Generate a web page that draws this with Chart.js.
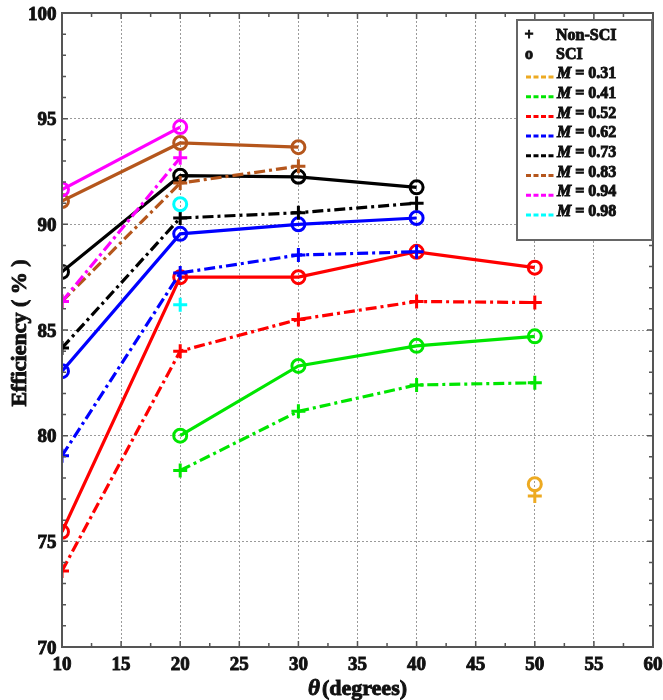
<!DOCTYPE html>
<html lang="en">
<head>
  <meta charset="UTF-8">
  <title>Efficiency vs θ</title>
  <script src="https://cdn.jsdelivr.net/npm/chart.js"></script>
  <style>
    body { margin: 0; background: #fff; }
  </style>
</head>
<body>
<canvas id="chart" width="663" height="700"></canvas>

<script>
  // θ (degrees) where efficiency was measured
  const angles = [10, 20, 30, 40, 50];
  const xTicks = [10, 15, 20, 25, 30, 35, 40, 45, 50, 55, 60];
  const yTicks = [70, 75, 80, 85, 90, 95, 100];
  const machLabels = ['0.31', '0.41', '0.52', '0.62', '0.73', '0.83', '0.94', '0.98'];

  // SCI efficiency (%), null = no point
  const sci031 = [null, null, null, null, 77.7];
  const sci041 = [null, 80.0, 83.3, 84.25, 84.7];
  const sci052 = [75.45, 87.5, 87.5, 88.7, 87.95];
  const sci062 = [83.05, 89.55, 90.0, 90.3, null];
  const sci073 = [87.75, 92.3, 92.25, 91.75, null];
  const sci083 = [91.1, 93.85, 93.65, null, null];
  const sci094 = [91.65, 94.6, null, null, null];
  const sci098 = [null, 90.95, null, null, null];

  // Non-SCI efficiency (%)
  const non031 = [null, null, null, null, 77.15];
  const non041 = [null, 78.35, 81.15, 82.4, 82.5];
  const non052 = [73.6, 84.0, 85.5, 86.35, 86.3];
  const non062 = [79.05, 87.7, 88.55, 88.7, null];
  const non073 = [84.15, 90.3, 90.55, 91.0, null];
  const non083 = [86.35, 91.95, 92.75, null, null];
  const non094 = [86.35, 93.15, null, null, null];
  const non098 = [null, 86.2, null, null, null];

  const sciSeries = [sci031, sci041, sci052, sci062, sci073, sci083, sci094, sci098];
  const nonSeries = [non031, non041, non052, non062, non073, non083, non094, non098];
  const colors = ['#EDAA22', '#00E600', '#FF0000', '#0000FF', '#000000', '#B5561C', '#FF00FF', '#00FFFF'];

  const serif = '"Liberation Serif", "Times New Roman", serif';
  const ink = '#111';

  function toPoints(values) {
    const pts = [];
    values.forEach((v, i) => { if (v !== null) pts.push({ x: angles[i], y: v }); });
    return pts;
  }

  // one solid (SCI) and one dash-dot (Non-SCI) dataset per Mach number
  const datasets = [];
  machLabels.forEach((m, i) => {
    datasets.push({
      label: 'Non-SCI M = ' + m,
      data: toPoints(nonSeries[i]),
      borderColor: colors[i],
      borderWidth: 3.2,
      borderDash: [11, 4, 3, 4],
      pointStyle: 'cross',
      pointRadius: 7,
      pointBorderWidth: 3,
      pointBorderColor: colors[i],
      tension: 0,
      order: -(i * 2)
    });
    datasets.push({
      label: 'SCI M = ' + m,
      data: toPoints(sciSeries[i]),
      borderColor: colors[i],
      borderWidth: 3.2,
      pointStyle: 'circle',
      pointRadius: 6.5,
      pointBorderWidth: 3,
      pointBorderColor: colors[i],
      pointBackgroundColor: 'rgba(0,0,0,0)',
      tension: 0,
      order: -(i * 2 + 1)
    });
  });

  // heavy serif text: fill plus a thin stroke of the same colour
  function boldText(ctx, text, x, y, font, color) {
    ctx.font = font;
    ctx.fillStyle = color;
    ctx.strokeStyle = color;
    ctx.lineWidth = 0.9;
    ctx.setLineDash([]);
    ctx.fillText(text, x, y);
    ctx.strokeText(text, x, y);
  }

  // box, inward ticks, tick labels, titles and legend
  const decorations = {
    id: 'decorations',
    afterDatasetsDraw(chart) {
      const { ctx, chartArea: a, scales: { x, y } } = chart;
      ctx.save();

      // frame
      ctx.strokeStyle = '#555';
      ctx.lineWidth = 2;
      ctx.setLineDash([]);
      ctx.strokeRect(a.left, a.top, a.right - a.left, a.bottom - a.top);

      // ticks on all four sides
      ctx.lineWidth = 1.5;
      for (let v = 10; v <= 60; v += 2.5) {
        const px = x.getPixelForValue(v);
        const len = v % 5 === 0 ? 6 : 4;
        ctx.beginPath();
        ctx.moveTo(px, a.bottom); ctx.lineTo(px, a.bottom - len);
        ctx.moveTo(px, a.top); ctx.lineTo(px, a.top + len);
        ctx.stroke();
      }
      for (let v = 70; v <= 100; v += 1) {
        const py = y.getPixelForValue(v);
        const len = v % 5 === 0 ? 6 : 4;
        ctx.beginPath();
        ctx.moveTo(a.left, py); ctx.lineTo(a.left + len, py);
        ctx.moveTo(a.right, py); ctx.lineTo(a.right - len, py);
        ctx.stroke();
      }

      // tick labels
      const tickFont = 'bold 19px ' + serif;
      ctx.textBaseline = 'alphabetic';
      ctx.textAlign = 'center';
      xTicks.forEach(v => boldText(ctx, String(v), x.getPixelForValue(v), 670, tickFont, ink));
      ctx.textAlign = 'right';
      yTicks.forEach(v => boldText(ctx, String(v), 56.5, y.getPixelForValue(v) + 6.5, tickFont, ink));

      // y axis title
      ctx.save();
      ctx.translate(20, (a.top + a.bottom) / 2 + 3);
      ctx.rotate(-Math.PI / 2);
      ctx.textAlign = 'center';
      ctx.textBaseline = 'middle';
      boldText(ctx, 'Efficiency ( % )', 0, 0, 'bold 22px ' + serif, ink);
      ctx.restore();

      // x axis title: italic θ followed by (degrees)
      const cx = (a.left + a.right) / 2;
      ctx.textAlign = 'left';
      ctx.textBaseline = 'alphabetic';
      ctx.font = 'italic bold 23px ' + serif;
      const tw = ctx.measureText('θ').width;
      ctx.font = 'bold 22px ' + serif;
      const dw = ctx.measureText('(degrees)').width;
      const sx = cx - (tw + 2 + dw) / 2;
      boldText(ctx, 'θ', sx, 695, 'italic bold 23px ' + serif, ink);
      boldText(ctx, '(degrees)', sx + tw + 2, 695, 'bold 22px ' + serif, ink);

      // legend
      const lx = 517, ly = 20, lw = 135, lh = 220;
      ctx.fillStyle = '#fff';
      ctx.fillRect(lx, ly, lw, lh);
      ctx.strokeStyle = '#666';
      ctx.lineWidth = 2;
      ctx.strokeRect(lx, ly, lw, lh);

      const legendFont = 'bold 16px ' + serif;
      ctx.textBaseline = 'middle';
      ctx.textAlign = 'center';
      boldText(ctx, '+', 529, 36, legendFont, ink);
      boldText(ctx, 'o', 529, 55, legendFont, ink);
      ctx.textAlign = 'left';
      boldText(ctx, 'Non-SCI', 556, 36, legendFont, ink);
      boldText(ctx, 'SCI', 556, 55, legendFont, ink);

      machLabels.forEach((m, i) => {
        const ry = 74 + i * 19.7;
        ctx.strokeStyle = colors[i];
        ctx.lineWidth = 3;
        ctx.setLineDash([5, 2.5]);
        ctx.beginPath();
        ctx.moveTo(526, ry + 3);
        ctx.lineTo(554, ry + 3);
        ctx.stroke();
        boldText(ctx, 'M', 557, ry, 'italic bold 16px ' + serif, ink);
        const mw = ctx.measureText('M').width;
        boldText(ctx, ' = ' + m, 557 + mw, ry, legendFont, ink);
      });

      ctx.restore();
    }
  };

  new Chart(document.getElementById('chart'), {
    type: 'line',
    data: { datasets },
    options: {
      responsive: false,
      animation: false,
      layout: { padding: { top: 13, right: 10, left: 0, bottom: 0 } },
      plugins: {
        legend: { display: false },
        tooltip: { enabled: false }
      },
      scales: {
        x: {
          type: 'linear',
          min: 10,
          max: 60,
          afterBuildTicks: s => { s.ticks = xTicks.map(v => ({ value: v })); },
          afterFit: s => { s.height = 53; },
          ticks: { display: false },
          grid: { color: '#9a9a9a', lineWidth: 1, drawTicks: false },
          border: { display: false, dash: [2, 2] }
        },
        y: {
          min: 70,
          max: 100,
          afterBuildTicks: s => { s.ticks = yTicks.map(v => ({ value: v })); },
          afterFit: s => { s.width = 62; },
          ticks: { display: false },
          grid: { color: '#9a9a9a', lineWidth: 1, drawTicks: false },
          border: { display: false, dash: [2, 2] }
        }
      }
    },
    plugins: [decorations]
  });
</script>
</body>
</html>
